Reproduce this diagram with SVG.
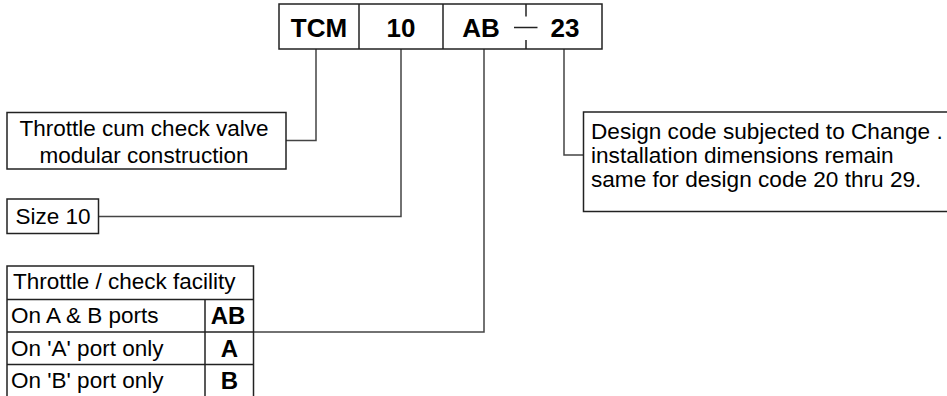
<svg xmlns="http://www.w3.org/2000/svg" width="947" height="396" viewBox="0 0 947 396">
<style>
.box{fill:#fff;stroke:#222;stroke-width:1.5}
.ln{fill:none;stroke:#222;stroke-width:1.5}
.con{fill:none;stroke:#444;stroke-width:1.5}
.t{font-family:"Liberation Sans",Arial,sans-serif;font-size:22.5px;fill:#000}
.d{font-size:22.6px}
.b{font-family:"Liberation Sans",Arial,sans-serif;font-size:26px;font-weight:bold;fill:#000}
.tb{font-family:"Liberation Sans",Arial,sans-serif;font-size:24px;font-weight:bold;fill:#000}
</style>
<rect width="947" height="396" fill="#fff"/>
<g id="connectors">
<polyline class="con" points="316,49 316,140.5 286,140.5"/>
<polyline class="con" points="401,49 401,216.5 98.5,216.5"/>
<polyline class="con" points="484,49 484,332 253.5,332"/>
<polyline class="con" points="564,49 564,155 583.5,155"/>
</g>
<g id="code">
<rect class="box" x="279" y="4" width="323" height="45"/>
<line class="ln" x1="359" y1="4" x2="359" y2="49"/>
<line class="ln" x1="443" y1="4" x2="443" y2="49"/>
<line class="ln" x1="526" y1="4" x2="526" y2="16.5"/>
<line class="ln" x1="526" y1="40" x2="526" y2="49"/>
<line class="ln" x1="514" y1="27.5" x2="537.5" y2="27.5"/>
<text class="b" x="319" y="37" text-anchor="middle">TCM</text>
<text class="b" x="401" y="37" text-anchor="middle">10</text>
<text class="b" x="481" y="37" text-anchor="middle">AB</text>
<text class="b" x="565" y="37" text-anchor="middle">23</text>
</g>
<g id="construction">
<rect class="box" x="7" y="112.5" width="279" height="56.5"/>
<text class="t" x="144" y="136" text-anchor="middle">Throttle cum check valve</text>
<text class="t" x="144" y="163" text-anchor="middle">modular construction</text>
</g>
<g id="size">
<rect class="box" x="7" y="199" width="91.5" height="34.5"/>
<text class="t" x="15.5" y="223.5">Size 10</text>
</g>
<g id="facility">
<rect class="box" x="7" y="266" width="246.5" height="140"/>
<line class="ln" x1="7" y1="299.5" x2="253.5" y2="299.5"/>
<line class="ln" x1="7" y1="332" x2="253.5" y2="332"/>
<line class="ln" x1="7" y1="364.5" x2="253.5" y2="364.5"/>
<line class="ln" x1="205" y1="299.5" x2="205" y2="396"/>
<text class="t" x="13" y="289">Throttle / check facility</text>
<text class="t" x="11" y="323">On A &amp; B ports</text>
<text class="t" x="11" y="355.5">On 'A' port only</text>
<text class="t" x="11" y="387.5">On 'B' port only</text>
<text class="tb" x="228" y="324" text-anchor="middle">AB</text>
<text class="tb" x="229.5" y="356.5" text-anchor="middle">A</text>
<text class="tb" x="229.5" y="388.5" text-anchor="middle">B</text>
</g>
<g id="design">
<rect class="box" x="583.5" y="112" width="380" height="99.5"/>
<text class="t d" x="591" y="138.5">Design code subjected to Change .</text>
<text class="t d" x="591" y="162.5">installation dimensions remain</text>
<text class="t d" x="591" y="187">same for design code 20 thru 29.</text>
</g>
</svg>
